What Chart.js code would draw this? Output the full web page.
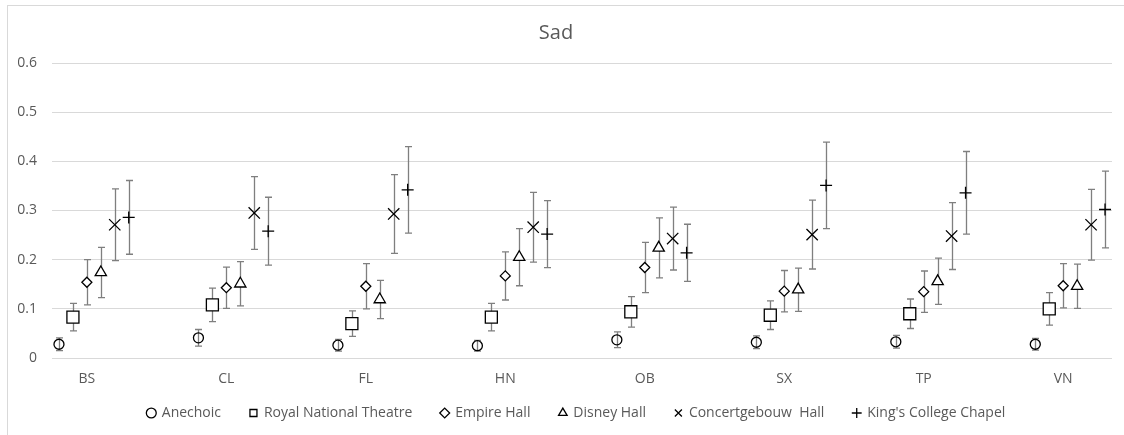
<!DOCTYPE html>
<html>
<head>
<meta charset="utf-8">
<script src="https://cdn.jsdelivr.net/npm/chart.js@4.4.1/dist/chart.umd.min.js"></script>
<style>
  body { margin: 0; background: #fff; }
  #wrap { position: relative; width: 1124px; height: 435px; overflow: hidden; }
  #frame { position: absolute; left: 7px; top: 5px; width: 1130px; height: 440px;
           border-left: 1px solid #d9d9d9; border-top: 1px solid #d9d9d9; }
  canvas { position: absolute; left: 0; top: 0; }
</style>
</head>
<body>
<div id="wrap">
  <div id="frame"></div>
  <canvas id="chart" width="1124" height="435"></canvas>
</div>
<script>
// 카테고리 / 데이터
const categories = ['BS', 'CL', 'FL', 'HN', 'OB', 'SX', 'TP', 'VN'];
const seriesNames = ['Anechoic', 'Royal National Theatre', 'Empire Hall', 'Disney Hall', 'Concertgebouw  Hall', "King's College Chapel"];

const anechoic = [0.028, 0.041, 0.026, 0.025, 0.037, 0.032, 0.033, 0.028];
const anechoicErr = [0.013, 0.017, 0.012, 0.011, 0.016, 0.013, 0.013, 0.012];
const royalNational = [0.083, 0.108, 0.070, 0.083, 0.094, 0.087, 0.090, 0.100];
const royalNationalErr = [0.028, 0.034, 0.026, 0.028, 0.031, 0.029, 0.030, 0.033];
const empireHall = [0.154, 0.143, 0.146, 0.167, 0.184, 0.136, 0.135, 0.147];
const empireHallErr = [0.046, 0.042, 0.046, 0.049, 0.051, 0.042, 0.042, 0.045];
const disneyHall = [0.174, 0.151, 0.119, 0.205, 0.224, 0.139, 0.156, 0.146];
const disneyHallErr = [0.051, 0.045, 0.039, 0.058, 0.061, 0.044, 0.047, 0.045];
const concertgebouw = [0.271, 0.295, 0.293, 0.266, 0.243, 0.251, 0.248, 0.271];
const concertgebouwErr = [0.073, 0.074, 0.080, 0.071, 0.064, 0.070, 0.068, 0.072];
const kingsCollege = [0.286, 0.258, 0.342, 0.252, 0.214, 0.351, 0.336, 0.302];
const kingsCollegeErr = [0.075, 0.069, 0.088, 0.068, 0.058, 0.088, 0.084, 0.078];

const yTicks = [0, 0.1, 0.2, 0.3, 0.4, 0.5, 0.6];

const values = [anechoic, royalNational, empireHall, disneyHall, concertgebouw, kingsCollege];
const errors = [anechoicErr, royalNationalErr, empireHallErr, disneyHallErr, concertgebouwErr, kingsCollegeErr];

// 마커 스타일 (시리즈별)
const styles = [
  { pointStyle: 'circle', radius: 5, fill: 'rgba(0,0,0,0)' },
  { pointStyle: 'rect', radius: 8.5, fill: '#fff' },
  { pointStyle: 'rectRot', radius: 5, fill: '#fff' },
  { pointStyle: 'triangle', radius: 6.5, fill: '#fff' },
  { pointStyle: 'crossRot', radius: 8, fill: '#fff' },
  { pointStyle: 'cross', radius: 6, fill: '#fff' },
];
const offsets = [-0.2, -0.1, 0, 0.1, 0.2, 0.3];

const datasets = seriesNames.map((name, s) => ({
  label: name,
  data: values[s].map((v, i) => ({ x: i + offsets[s], y: v, err: errors[s][i] })),
  pointStyle: styles[s].pointStyle,
  pointRadius: styles[s].radius,
  pointHoverRadius: styles[s].radius,
  pointBorderColor: '#000',
  pointBackgroundColor: styles[s].fill,
  pointBorderWidth: 1.3,
  borderColor: '#000',
  backgroundColor: styles[s].fill,
  showLine: false,
}));

// 오차 막대 그리기
const errorBars = {
  id: 'errorBars',
  beforeDatasetsDraw(chart) {
    const { ctx, scales: { x, y } } = chart;
    ctx.save();
    ctx.strokeStyle = '#7f7f7f';
    ctx.lineWidth = 1.3;
    chart.data.datasets.forEach(ds => {
      ds.data.forEach(pt => {
        const px = Math.round(x.getPixelForValue(pt.x)) + 0.5;
        const top = y.getPixelForValue(pt.y + pt.err);
        const bot = y.getPixelForValue(pt.y - pt.err);
        ctx.beginPath();
        ctx.moveTo(px, top); ctx.lineTo(px, bot);
        ctx.moveTo(px - 3.5, top); ctx.lineTo(px + 3.5, top);
        ctx.moveTo(px - 3.5, bot); ctx.lineTo(px + 3.5, bot);
        ctx.stroke();
      });
    });
    ctx.restore();
  }
};

const FONT = "'Open Sans', 'Liberation Sans', sans-serif";

new Chart(document.getElementById('chart'), {
  type: 'scatter',
  data: { datasets },
  plugins: [errorBars],
  options: {
    responsive: false,
    animation: false,
    devicePixelRatio: 1,
    layout: { padding: { left: 0, right: 12, top: 0, bottom: 5 } },
    plugins: {
      tooltip: { enabled: false },
      title: {
        display: true,
        text: 'Sad',
        color: '#595959',
        font: { family: FONT, size: 20, weight: 'normal' },
        padding: { top: 21, bottom: 18 },
      },
      legend: {
        position: 'bottom',
        fullSize: false,
        labels: {
          usePointStyle: true,
          boxWidth: 7,
          boxHeight: 7,
          padding: 18,
          color: '#595959',
          font: { family: FONT, size: 14 },
          // 항목 사이 간격을 넓히기 위해 뒤에 공백 추가
          generateLabels: chart => Chart.defaults.plugins.legend.labels.generateLabels(chart)
            .map(item => ({ ...item, text: item.text + '   ' })),
        },
      },
    },
    scales: {
      x: {
        type: 'linear',
        min: -0.25,
        max: 7.35,
        afterBuildTicks: scale => { scale.ticks = categories.map((c, i) => ({ value: i })); },
        afterFit: scale => { scale.height = 30; },
        grid: { display: false, drawTicks: false },
        border: { display: false },
        ticks: {
          padding: 13,
          color: '#595959',
          font: { family: FONT, size: 14 },
          autoSkip: false,
          maxRotation: 0,
          callback: v => categories[v],
        },
      },
      y: {
        min: 0,
        max: 0.6,
        afterBuildTicks: scale => { scale.ticks = yTicks.map(v => ({ value: v })); },
        afterFit: scale => { scale.width = 52; },
        grid: { color: '#d9d9d9', drawTicks: false, lineWidth: 1 },
        border: { display: false },
        ticks: {
          padding: 15,
          color: '#595959',
          font: { family: FONT, size: 14 },
          callback: v => (v === 0 ? '0' : v.toFixed(1)),
        },
      },
    },
  },
});
</script>
</body>
</html>
